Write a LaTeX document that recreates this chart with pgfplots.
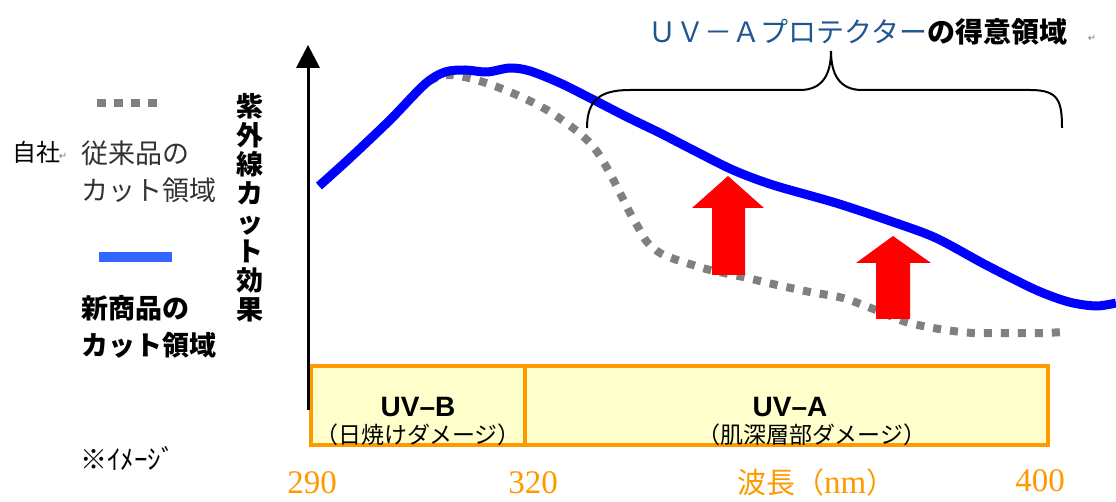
\documentclass[border=0pt]{standalone}
\usepackage{fontspec}
\usepackage{pgfplots}
\pgfplotsset{compat=1.18}
\setmainfont{Liberation Serif}
\newfontfamily\jp{Noto Sans CJK JP}
\newfontfamily\arial{Liberation Sans}
\newfontfamily\dv{DejaVu Sans}
\definecolor{uvblue}{RGB}{0,0,255}
\definecolor{legblue}{RGB}{51,102,255}
\definecolor{boxfill}{RGB}{255,255,204}
\definecolor{boxedge}{RGB}{255,153,0}
\definecolor{tickor}{RGB}{255,153,0}
\definecolor{titleblue}{RGB}{31,85,145}
\definecolor{oldgray}{RGB}{128,128,128}
\definecolor{txtgray}{RGB}{50,50,50}
\begin{document}
\begin{tikzpicture}
\begin{axis}[
  name=ax,
  width=1116pt, height=502pt, scale only axis,
  xmin=0, xmax=1116, ymin=0, ymax=502,
  y dir=reverse,
  hide axis, clip=false,
]
% UV-B / UV-A boxes
\addplot[fill=boxfill, draw=boxedge, line width=4pt] coordinates {(311,366) (525,366) (525,445) (311,445)} -- cycle;
\addplot[fill=boxfill, draw=boxedge, line width=4pt] coordinates {(525,366) (1048,366) (1048,445) (525,445)} -- cycle;
% y axis arrow
\addplot[black, line width=3pt] coordinates {(308,410) (308,66)};
\addplot[fill=black, draw=none] coordinates {(296,68) (308,45) (320,68)} -- cycle;
% old product (gray dotted)
\addplot[oldgray, line width=8pt, dash pattern=on 8pt off 9pt, smooth] coordinates {
(319,186) (350,158) (390,120) (425,84) (450,75) (483,82) (517,95) (547,110) (573,128) (587,140) (598,153) (607,168) (615,183) (622,197) (630,213) (638,227) (647,242) (660,253) (677,260) (693,265) (710,270) (743,277) (777,285) (810,292) (843,298) (876,310) (906,322) (939,329) (973,333) (1009,333) (1043,333) (1063,332)};
% new product (blue)
\addplot[uvblue, line width=9pt, smooth] coordinates {
(319,186) (350,158) (390,120) (425,84) (445,72) (465,70) (487,72) (510,68) (530,71) (560,83) (590,98) (627,117) (660,133) (693,150) (733,170) (773,185) (836,203) (893,222) (936,238) (986,265) (1036,290) (1069,302) (1096,306) (1116,303)};
% red arrows
\addplot[fill=red, draw=none] coordinates {(712,275) (712,208) (692,208) (728,176) (764,208) (745,208) (745,275)} -- cycle;
\addplot[fill=red, draw=none] coordinates {(876,319) (876,263) (856,263) (893,236) (931,263) (910,263) (910,319)} -- cycle;
% brace
\draw[black, line width=2pt] (587,128) .. controls (587,100) and (600,90) .. (630,90) -- (800,90) .. controls (822,90) and (831,75) .. (831,51) .. controls (831,75) and (840,90) .. (862,90) -- (1030,90) .. controls (1058,90) and (1062,100) .. (1062,128);
% title
\node[font=\jp\fontsize{28}{30}\selectfont, inner sep=0] at (858,32) {\textcolor{titleblue}{ＵＶ－Ａプロテクター}\bfseries の得意領域};
\node[font=\dv\fontsize{10}{10}\selectfont, text=gray, inner sep=0] at (1092,38) {↵};
% y label
\node[font=\jp\bfseries\fontsize{27}{29}\selectfont, align=center, inner sep=0] at (250,208) {紫\\外\\線\\カ\\ッ\\ト\\効\\果};
% legend
\addplot[oldgray, line width=8pt, dash pattern=on 9pt off 8pt] coordinates {(97,103) (160,103)};
\addplot[legblue, line width=10pt] coordinates {(99,257) (172,257)};
\node[font=\jp\fontsize{24}{26}\selectfont, anchor=west, inner sep=0] at (12,152) {自社};
\node[font=\dv\fontsize{10}{10}\selectfont, text=gray, inner sep=0] at (63,156) {↵};
\node[font=\jp\fontsize{27}{37}\selectfont, text=txtgray, anchor=north west, align=left, inner sep=0] at (81,141) {従来品の\\カット領域};
\node[font=\jp\bfseries\fontsize{27}{37}\selectfont, anchor=north west, align=left, inner sep=0] at (81,295) {新商品の\\カット領域};
\node[font=\jp\fontsize{27}{29}\selectfont, anchor=west, inner sep=0] at (80,458) {※ｲﾒｰｼﾞ};
% box labels
\node[font=\arial\bfseries\fontsize{28}{30}\selectfont, inner sep=0] at (418,407) {UV–B};
\node[font=\jp\fontsize{23}{25}\selectfont, inner sep=0] at (418,435) {（日焼けダメージ）};
\node[font=\arial\bfseries\fontsize{28}{30}\selectfont, inner sep=0] at (790,407) {UV–A};
\node[font=\jp\fontsize{23}{25}\selectfont, anchor=west, inner sep=0] at (697,435) {（肌深層部ダメージ）};
% x labels
\node[font=\fontsize{33}{35}\selectfont, text=tickor, inner sep=0] at (312,483) {290};
\node[font=\fontsize{33}{35}\selectfont, text=tickor, inner sep=0] at (533,483) {320};
\node[font=\fontsize{33}{35}\selectfont, text=tickor, inner sep=0] at (1040,481) {400};
\node[text=tickor, inner sep=0, anchor=west] at (737,482) {\jp\fontsize{29}{31}\selectfont 波長（\rmfamily\fontsize{33}{35}\selectfont nm\jp\fontsize{29}{31}\selectfont ）};
\end{axis}
\pgfresetboundingbox
\useasboundingbox (ax.south west) rectangle (ax.north east);
\end{tikzpicture}
\end{document}
